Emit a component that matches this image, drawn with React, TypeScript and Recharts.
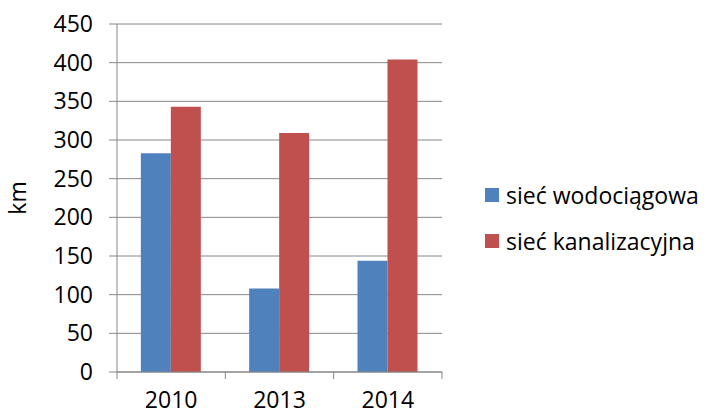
import { BarChart, Bar, XAxis, YAxis, CartesianGrid } from 'recharts'

const years = ['2010', '2013', '2014']
const wodociagowa = [283, 108, 144]
const kanalizacyjna = [343, 309, 404]
const yTicks = [0, 50, 100, 150, 200, 250, 300, 350, 400, 450]

const series = [
  { key: 'wod', name: 'sieć wodociągowa', color: '#4F81BD' },
  { key: 'kan', name: 'sieć kanalizacyjna', color: '#C0504D' },
]

const data = years.map((year, i) => ({ year, wod: wodociagowa[i], kan: kanalizacyjna[i] }))

const font = '"Open Sans", sans-serif'
const axisGray = '#868686'
const fs = 23

const W = 705
const H = 417
const margin = { top: 24, right: 263, left: 0, bottom: 0 }
const yAxisWidth = 117
const band = (W - margin.left - margin.right - yAxisWidth) / years.length
const xTickSize = 7
const xTickMargin = 13

// Excel-style category axis: tick marks sit between categories, labels in the middle
function YearTick(props: any) {
  const { x, y, payload, index } = props
  const top = y - xTickMargin - xTickSize
  const left = x - band / 2
  const right = x + band / 2
  return (
    <g>
      <line x1={left} x2={left} y1={top} y2={top + xTickSize} stroke={axisGray} />
      {index === years.length - 1 && <line x1={right} x2={right} y1={top} y2={top + xTickSize} stroke={axisGray} />}
      <text x={x} y={y} dy="0.71em" textAnchor="middle" fontSize={fs} fontFamily={font} fill="#000">
        {payload.value}
      </text>
    </g>
  )
}

function LegendBox() {
  return (
    <div style={{ position: 'absolute', left: 485, top: 172, fontFamily: font, fontSize: fs, color: '#000' }}>
      {series.map((s) => (
        <div key={s.key} style={{ display: 'flex', alignItems: 'center', height: 46, whiteSpace: 'nowrap' }}>
          <span style={{ width: 14, height: 14, background: s.color, marginRight: 7 }} />
          <span>{s.name}</span>
        </div>
      ))}
    </div>
  )
}

export default function App() {
  return (
    <div style={{ position: 'absolute', left: 0, top: 0, width: W, height: H, background: '#fff' }}>
      <BarChart width={W} height={H} data={data} margin={margin} barCategoryGap="22%" barGap={0}>
        <CartesianGrid vertical={false} stroke={axisGray} strokeWidth={1} />
        <XAxis
          dataKey="year"
          tickLine={false}
          tickSize={xTickSize}
          tickMargin={xTickMargin}
          axisLine={{ stroke: axisGray }}
          height={45}
          tick={<YearTick />}
        />
        <YAxis
          domain={[0, 450]}
          ticks={yTicks}
          width={yAxisWidth}
          tickSize={8}
          tickMargin={16}
          axisLine={{ stroke: axisGray }}
          tickLine={{ stroke: axisGray }}
          tick={{ fontSize: fs, fill: '#000', fontFamily: font }}
          label={{ value: 'km', angle: -90, position: 'insideLeft', offset: 18, style: { textAnchor: 'middle', fontSize: fs, fontFamily: font, fill: '#000' } }}
        />
        {series.map((s) => (
          <Bar key={s.key} dataKey={s.key} name={s.name} fill={s.color} isAnimationActive={false} />
        ))}
      </BarChart>
      <LegendBox />
    </div>
  )
}
